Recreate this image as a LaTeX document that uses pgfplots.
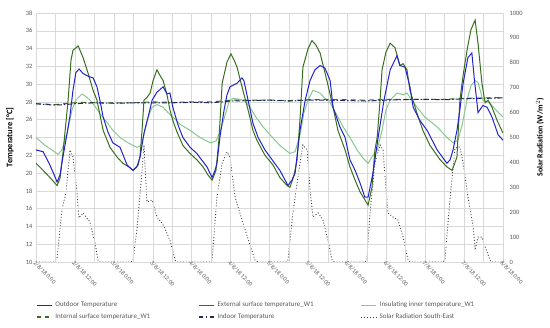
\documentclass[border=0pt]{standalone}
\usepackage{fontspec}
\setmainfont{Carlito}
\usepackage{pgfplots}
\usepackage{pgfplotstable}
\pgfplotsset{compat=1.18}
\definecolor{cOut}{RGB}{34,34,204}
\definecolor{cExt}{RGB}{56,110,30}
\definecolor{cIns}{RGB}{135,200,145}
\definecolor{cInt}{RGB}{56,110,30}
\definecolor{cInd}{RGB}{30,40,100}
\definecolor{cSol}{RGB}{60,60,60}
\definecolor{cGrid}{RGB}{217,217,217}
\definecolor{cTxt}{RGB}{89,89,89}

\pgfplotstableread{
h T
0 22.6
2.2 22.4
4.3 20.9
5.6 19.8
6.5 19.0
7.4 19.8
8.3 21.8
9.6 24.5
10.5 26.5
11.4 29.3
12.3 31.3
13.3 31.7
14.5 31.2
16.0 30.9
17.6 30.7
18.8 29.7
19.7 28.2
20.7 26.3
22.2 24.6
23.7 23.4
25.9 22.9
28.1 20.9
29.9 20.3
31.1 20.7
32.1 21.8
33.3 24.5
34.5 26.2
35.8 28.2
37.3 29.1
39.2 29.7
40.4 28.9
41.3 29.0
42.2 27.4
43.8 25.4
45.3 24.0
47.5 22.9
49.6 22.2
52.7 20.7
54.3 19.5
55.2 20.3
55.8 21.1
56.7 24.0
58.0 27.1
58.9 28.8
59.8 29.7
62.0 30.1
63.5 30.7
64.1 30.4
65.4 28.2
66.9 25.6
68.5 24.0
70.6 22.6
72.8 21.5
75.2 20.3
77.7 18.6
78.9 19.2
79.9 20.0
81.4 24.8
83.0 28.2
84.5 30.4
86.0 31.6
87.6 32.1
89.1 31.8
90.7 30.4
91.6 27.4
93.7 25.2
95.3 24.0
96.8 21.5
98.4 20.3
99.9 18.9
101.4 17.3
102.4 17.3
103.9 20.0
105.5 24.0
107.3 28.2
109.2 31.6
111.3 33.2
112.2 32.1
113.8 31.9
115.3 29.7
116.3 27.4
118.4 25.9
120.6 24.8
123.7 22.6
126.7 21.1
127.7 21.5
128.6 22.6
129.8 24.8
130.7 27.1
131.7 30.1
133.2 33.0
134.4 33.5
135.1 30.8
136.3 26.8
137.8 27.6
139.1 27.4
140.6 26.3
142.5 24.3
144 23.7
}\outdoor

\pgfplotstableread{
h T
0 21.1
2.2 20.3
4.3 19.5
6.5 18.6
7.4 19.4
8.3 22.2
9.9 28.2
10.8 32.7
11.4 33.8
13.0 34.3
14.5 33.0
16.0 31.3
17.6 29.3
18.8 28.2
20.7 24.8
22.8 22.9
25.0 21.8
26.8 21.1
29.0 20.6
29.9 20.3
31.5 20.9
32.1 22.0
32.7 24.8
33.3 28.2
34.2 28.5
35.2 29.0
36.1 30.4
37.3 31.6
38.2 31.0
39.2 30.4
40.4 28.8
41.3 27.1
42.2 25.9
43.5 24.6
45.3 23.1
47.5 22.2
49.6 21.5
51.5 20.7
53.0 19.8
54.3 19.2
55.5 20.3
56.4 23.7
57.4 30.1
58.9 32.5
60.1 33.4
61.1 32.7
62.0 31.9
63.8 29.3
65.4 27.1
66.9 24.8
68.1 23.7
70.6 22.0
73.1 20.9
75.2 19.5
77.4 18.6
78.3 18.4
79.6 19.8
80.5 21.5
81.4 26.0
82.3 31.9
83.9 34.0
85.1 34.9
86.3 34.4
87.6 33.5
89.7 30.4
91.6 27.4
93.1 24.8
95.3 22.6
96.8 20.7
98.4 19.2
99.9 17.9
101.4 17.0
102.4 16.4
103.6 18.4
104.5 22.6
105.2 24.0
106.1 28.2
106.7 31.6
107.9 33.6
109.2 34.6
110.7 34.1
112.2 32.1
113.2 32.3
114.4 31.6
115.3 29.3
117.5 26.7
119.3 24.8
121.5 23.1
124.6 21.5
126.7 20.7
128.3 20.3
129.8 21.8
130.7 28.2
131.7 31.0
132.9 33.8
134.1 36.1
135.4 37.2
136.3 34.6
137.5 30.1
138.5 27.9
139.4 28.2
140.6 27.4
142.2 25.9
144 24.5
}\external

\pgfplotstableread{
h T
0 24.0
2.8 23.1
4.9 22.6
6.8 22.1
8.0 22.6
9.6 24.5
11.1 27.1
12.3 28.2
14.2 28.9
15.4 28.6
16.7 28.2
18.2 27.5
19.7 26.7
21.9 25.7
23.7 24.8
25.9 24.0
28.4 23.4
31.1 22.9
32.4 23.1
33.3 24.3
34.5 26.2
35.8 27.4
37.3 27.7
39.2 27.4
40.7 26.8
42.2 26.3
44.4 25.5
47.5 24.8
50.6 24.0
53.7 23.4
55.5 23.6
56.7 24.6
58.3 26.5
59.5 28.0
60.7 28.4
62.9 28.3
64.4 28.1
66.0 27.4
67.8 26.3
70.0 25.2
72.2 24.3
75.2 23.1
78.3 22.2
79.9 22.4
81.4 24.3
82.6 26.8
83.9 28.2
85.4 29.3
87.6 29.0
89.1 28.4
90.7 27.9
92.8 26.5
94.7 25.2
96.8 24.0
99.0 22.6
100.8 21.7
102.4 21.1
103.9 22.0
105.2 22.6
106.7 24.8
107.9 27.1
109.2 28.2
111.3 29.0
113.2 28.8
114.4 29.0
115.9 28.2
117.5 27.4
119.9 26.3
123.7 25.2
126.7 24.0
128.6 23.4
130.1 23.7
131.4 25.4
132.9 28.2
134.1 29.8
135.4 30.4
136.3 30.2
137.8 28.2
139.9 27.9
141.8 27.1
144 26.3
}\insulating

\pgfplotstableread{
h T
0 27.8
3 27.75
6 27.7
10 27.85
14 27.95
20 27.9
24 27.9
30 27.9
36 28.0
42 27.95
48 28.0
54 28.0
60 28.2
66 28.2
72 28.2
78 28.15
84 28.25
90 28.25
96 28.25
102 28.2
108 28.3
114 28.3
120 28.3
126 28.3
132 28.4
138 28.45
144 28.5
}\internal

\pgfplotstableread{
h T
0 27.8
3 27.7
6 27.65
9 27.7
12 27.8
18 27.9
24 27.85
30 27.9
36 27.9
42 27.9
48 27.95
54 27.9
60 28.1
66 28.15
72 28.2
78 28.1
84 28.2
90 28.2
96 28.15
102 28.1
108 28.2
114 28.25
120 28.3
126 28.25
132 28.35
138 28.4
144 28.45
}\indoor

\pgfplotstableread{
h S
0 0
5.5 0
6.5 16
8.0 209
9.2 277
10.5 450
11.4 422
12.6 289
13.2 177
14.5 197
16.6 161
18.2 76
19.1 8
19.7 0
29.3 0
29.9 8
31.1 128
32.7 369
33.3 470
34.2 241
35.8 249
37.3 181
39.2 149
41.3 88
42.9 8
43.5 0
53.7 0
54.3 8
55.8 261
57.4 398
58.9 442
59.8 422
61.4 261
63.8 157
66.0 68
67.5 8
68.5 0
77.1 0
77.7 8
79.2 197
81.4 398
82.3 470
83.6 450
84.5 289
85.4 181
87.0 197
88.5 169
90.0 88
91.3 8
92.0 0
101.4 0
102.0 8
103.0 197
104.5 398
106.1 470
107.0 450
108.5 197
110.1 181
111.6 169
113.2 100
114.7 8
115.5 0
125.5 0
126.1 8
127.7 261
129.2 458
130.7 462
131.7 398
133.2 261
134.8 141
135.4 48
136.3 100
137.5 100
138.5 60
140.0 8
140.3 0
144 0
}\solar

\begin{document}
\begin{tikzpicture}
\pgfplotsset{
  every axis/.append style={
    scale only axis, width=467bp, height=249bp,
    at={(0,0)}, anchor=south west,
    xmin=0, xmax=144,
    axis line style={draw=none},
    tick style={draw=none},
    /pgf/number format/assume math mode=true,
    /pgf/number format/1000 sep={},
    tick label style={font=\fontsize{6.5}{7}\selectfont, text=cTxt},
  }
}
% solar radiation (right axis)
\begin{axis}[
  axis x line=none,
  axis y line*=right,
  ymin=0, ymax=1000,
  ytick={0,100,...,1000},
  yticklabel style={xshift=3bp},
  ylabel={\bfseries Solar Radiation (W/m$^{2}$)},
  ylabel style={at={(axis description cs:1.079,0.5)}, anchor=center, rotate=0, font=\fontsize{8}{9}\selectfont},
]
\addplot[cSol, line width=0.9pt, dotted] table[x=h, y=S] {\solar};
\end{axis}
% temperatures (left axis)
\begin{axis}[
  ymin=10, ymax=38,
  ytick={10,12,...,38},
  xtick={0,12,...,144},
  minor xtick={6,18,...,138},
  xticklabels={2/8/18 0:00,2/8/18 12:00,3/8/18 0:00,3/8/18 12:00,4/8/18 0:00,4/8/18 12:00,5/8/18 0:00,5/8/18 12:00,6/8/18 0:00,6/8/18 12:00,7/8/18 0:00,7/8/18 12:00,8/8/18 0:00},
  xticklabel style={rotate=-45, anchor=north west, font=\fontsize{6}{7}\selectfont, xshift=-2bp, yshift=2bp, inner sep=1pt},
  grid=both,
  major grid style={cGrid, line width=0.5pt},
  minor grid style={cGrid, line width=0.5pt},
  ylabel={\bfseries Temperature [°C]},
  ylabel style={at={(axis description cs:-0.0557,0.5)}, anchor=center, font=\fontsize{8.5}{10}\selectfont},
]
\addplot[cIns, line width=1pt] table[x=h, y=T] {\insulating};
\addplot[cInt, line width=1pt, dash pattern=on 5bp off 4bp] table[x=h, y=T] {\internal};
\addplot[cInd, line width=1pt, dash pattern=on 5bp off 2bp on 1.5bp off 2bp] table[x=h, y=T] {\indoor};
\addplot[cExt, line width=1pt] table[x=h, y=T] {\external};
\addplot[cOut, line width=1pt] table[x=h, y=T] {\outdoor};
\end{axis}
\begin{axis}[
  hide axis,
  ymin=10, ymax=38,
  legend columns=3,
  legend cell align=left,
  legend style={draw=none, fill=none, at={(axis description cs:0.0,-0.152)}, anchor=north west,
    inner sep=0pt, font=\fontsize{7}{8}\selectfont, text=cTxt,
    /tikz/every odd column/.style={column sep=1bp},
    row sep=1.5bp},
  legend image code/.code={\draw[#1] (0bp,0bp) -- (15bp,0bp);},
]
\addlegendimage{cOut, line width=1.2pt}
\addlegendentry{\makebox[141bp][l]{Outdoor Temperature}}
\addlegendimage{cExt, line width=1.2pt}
\addlegendentry{\makebox[141bp][l]{External surface temperature\_W1}}
\addlegendimage{cIns, line width=1.2pt}
\addlegendentry{\makebox[100bp][l]{Insulating inner temperature\_W1}}
\addlegendimage{cInt, line width=1.2pt, dash pattern=on 4bp off 4bp}
\addlegendentry{\makebox[141bp][l]{Internal surface temperature\_W1}}
\addlegendimage{cInd, line width=1.2pt, dash pattern=on 4bp off 3bp on 1.5bp off 3bp}
\addlegendentry{\makebox[141bp][l]{Indoor Temperature}}
\addlegendimage{cSol, line width=0.9pt, dotted}
\addlegendentry{\makebox[100bp][l]{Solar Radiation South-East}}
\end{axis}
\pgfresetboundingbox
\path[use as bounding box] (-36bp,-66bp) rectangle (514bp,262bp);
\end{tikzpicture}
\end{document}
